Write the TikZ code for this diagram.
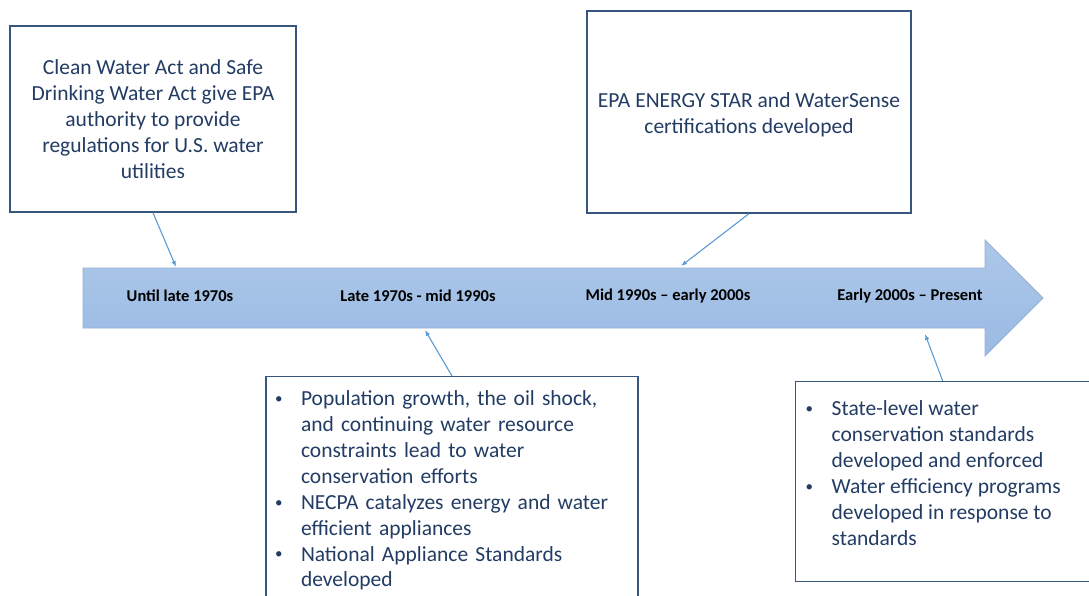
\documentclass[tikz,border=0pt]{standalone}
\usepackage{fontspec}
\setmainfont{Carlito}
\usepackage{enumitem}
\usetikzlibrary{arrows.meta, positioning, calc}
\definecolor{boxline}{RGB}{55,85,125}
\definecolor{boxtext}{RGB}{35,60,100}
\definecolor{connblue}{RGB}{91,155,213}
\definecolor{bandtop}{RGB}{172,199,233}
\definecolor{bandbot}{RGB}{155,186,227}
\definecolor{bandline}{RGB}{150,176,212}
\tikzset{
  evbox/.style={rectangle, draw=boxline, line width=1.4pt, fill=white, text=boxtext,
    font=\fontsize{21.5}{25.9}\selectfont, inner sep=9pt},
  era/.style={font=\fontsize{16.5}{18}\selectfont\bfseries, text=black},
  conn/.style={-{Latex[length=6pt,width=4.5pt]}, line width=1.1pt, draw=connblue},
}
\setlist[itemize]{leftmargin=26pt, labelwidth=26pt, labelsep=0pt, align=left,
  label=\raisebox{0.2ex}{\fontsize{15}{15}\selectfont\textbullet},
  itemsep=0pt, parsep=0pt, topsep=0pt, partopsep=0pt}

\begin{document}
\begin{tikzpicture}[x=1pt, y=-1pt]
  \useasboundingbox (0,0) rectangle (1089,596);
  \clip (0,0) rectangle (1089,596);

  % timeline band
  \shade[top color=bandtop, bottom color=bandbot, draw=bandline, line width=0.8pt]
    (83,268) -- (985,268) -- (985,240) -- (1043,298) -- (985,356) -- (985,328) -- (83,328) -- cycle;
  \node[era] (until) at (180,296) {Until late 1970s};
  \node[era] (late) at (418,296) {Late 1970s - mid 1990s};
  \node[era] (mid) at (668,296) {Mid 1990s – early 2000s};
  \node[era] (early) at (910,296) {Early 2000s – Present};

  \coordinate (t1) at (176,267);
  \coordinate (t2) at (681,266);
  \coordinate (t3) at (425,330);
  \coordinate (t4) at (925,334);

  % event boxes
  \node[evbox, minimum width=286pt, minimum height=186pt, align=center] (cwa) at (153,119)
    {Clean Water Act and Safe\\Drinking Water Act give EPA\\authority to provide\\regulations for U.S. water\\utilities};
  \node[evbox, minimum width=324pt, minimum height=202pt] (star) at (749,112)
    {\raisebox{-3pt}[\height][\depth]{\begin{tabular}{@{}c@{}}EPA ENERGY STAR and WaterSense\\certifications developed\end{tabular}}};
  \node[evbox, anchor=north, text width=354pt, inner ysep=3pt] (necpa) at (452,376) {%
    \begin{itemize}
      \item Population growth, the oil shock,\\and continuing water resource\\constraints lead to water\\conservation efforts
      \item NECPA catalyzes energy and water\\efficient appliances
      \item National Appliance Standards\\developed
      \item[] \vspace*{10pt}
    \end{itemize}};
  \node[evbox, anchor=north west, inner sep=0pt] (state) at (795,381) {%
    \begin{minipage}[c][200pt][t]{306pt}
      \vspace*{19pt}
      \hspace*{10pt}\begin{minipage}[t]{280pt}
      \begin{itemize}
        \item State-level water\\conservation standards\\developed and enforced
        \item Water efficiency programs\\developed in response to\\standards
      \end{itemize}
      \end{minipage}
    \end{minipage}};

  % connectors
  \draw[conn] (cwa.south) -- (t1);
  \draw[conn] (star.south) -- (t2);
  \draw[conn] (necpa.north) -- (t3);
  \draw[conn] ([xshift=-6pt]state.north) -- (t4);
\end{tikzpicture}
\end{document}
